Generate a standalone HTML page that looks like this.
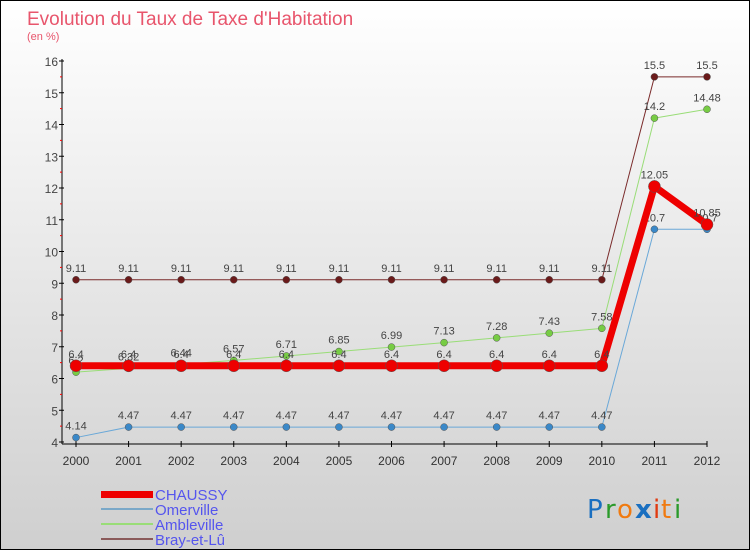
<!DOCTYPE html>
<html><head><meta charset="utf-8"><style>
body{margin:0}
#c{width:748px;height:548px;border:1px solid #000;background:linear-gradient(#fff,#cfcfcf);position:relative;font-family:"Liberation Sans",sans-serif;overflow:hidden}
</style></head><body>
<div id="c">
<svg id="s" width="748" height="548" xmlns="http://www.w3.org/2000/svg" style="position:absolute;left:0;top:0">
<text x="26" y="24" font-size="19" fill="#e8556c">Evolution du Taux de Taxe d'Habitation</text>
<text x="26" y="39" font-size="11" fill="#e8556c">(en %)</text>
<g id="axes"></g><g id="series"></g>
<g>
<rect x="100" y="490" width="52" height="7" fill="#e00"/>
<text x="154" y="499" font-size="15" fill="#5555ee">CHAUSSY</text>
<rect x="100" y="507" width="52" height="2" fill="#7aa8c8"/>
<text x="154" y="514" font-size="15" fill="#5555ee">Omerville</text>
<rect x="100" y="522" width="52" height="2" fill="#99dd77"/>
<text x="154" y="529" font-size="15" fill="#5555ee">Ambleville</text>
<rect x="100" y="537" width="52" height="2" fill="#8a5a5a"/>
<text x="154" y="544" font-size="15" fill="#5555ee">Bray-et-Lû</text>
</g>
<g font-size="26" font-family="'DejaVu Sans',sans-serif">
<text x="586" y="517" fill="#1a6fc0">P</text><text x="604" y="517" fill="#2a9a2a">r</text><text x="616" y="517" fill="#f07a10">o</text><text x="634" y="517" fill="#1a6fc0" font-weight="bold">x</text><text x="652" y="517" fill="#e03a10">i</text><text x="660" y="517" fill="#f07a10">t</text><text x="673" y="517" fill="#2a9a2a">i</text>
</g>
</svg>
</div>
<script>
const years=[2000,2001,2002,2003,2004,2005,2006,2007,2008,2009,2010,2011,2012];
const chaussy=[6.4,6.4,6.4,6.4,6.4,6.4,6.4,6.4,6.4,6.4,6.4,12.05,10.85];
const omerville=[4.14,4.47,4.47,4.47,4.47,4.47,4.47,4.47,4.47,4.47,4.47,10.7,10.7];
const ambleville=[6.2,6.32,6.44,6.57,6.71,6.85,6.99,7.13,7.28,7.43,7.58,14.2,14.48];
const bray=[9.11,9.11,9.11,9.11,9.11,9.11,9.11,9.11,9.11,9.11,9.11,15.5,15.5];
const yTicks=[4,5,6,7,8,9,10,11,12,13,14,15,16];
const NS="http://www.w3.org/2000/svg";
const X=i=>75+i*(706-75)/(years.length-1);
const Y=v=>441-(v-4)*(441-60)/12;
function mk(p,t,a){const e=document.createElementNS(NS,t);for(const k in a)e.setAttribute(k,a[k]);p.appendChild(e);return e;}
const ax=document.getElementById('axes');
let l=mk(ax,'line',{x1:61,y1:58,x2:61,y2:443,stroke:'#000'});


l=mk(ax,'line',{x1:61,y1:443,x2:706,y2:443,stroke:'#000'});


yTicks.forEach((v,i)=>{
 mk(ax,'line',{x1:58,y1:Y(v),x2:63,y2:Y(v),stroke:'#000'});
 if(i<yTicks.length-1)mk(ax,'line',{x1:59,y1:Y(v+0.5),x2:61,y2:Y(v+0.5),stroke:'#f00'});
 const t=mk(ax,'text',{x:57,y:Y(v)+5,'font-size':12,'text-anchor':'end',fill:'#444'});t.textContent=v;
 
 
});
years.forEach((y,i)=>{
 mk(ax,'line',{x1:X(i),y1:440,x2:X(i),y2:446,stroke:'#000'});
 const t=mk(ax,'text',{x:X(i),y:464,'font-size':12,'text-anchor':'middle',fill:'#333'});t.textContent=y;
 
 
});
const sg=document.getElementById('series');
function series(name,data,color,dot,w,r){
 const g=mk(sg,'g',{});
 
 
 const pl=mk(g,'polyline',{points:data.map((v,i)=>X(i)+','+Y(v)).join(' '),fill:'none',stroke:color,'stroke-width':w,'stroke-linejoin':'round'});
 
 
 data.forEach((v,i)=>{
  const c=mk(g,'circle',{cx:X(i),cy:Y(v),r:r,fill:dot,stroke:'#555','stroke-width':0.5});
  
  
  const t=mk(g,'text',{x:X(i),y:Y(v)-8,'font-size':11,'text-anchor':'middle',fill:'#444'});t.textContent=v;
  
  
 });
}
series('bray',bray,'#7a2a2a','#6a1a1a',1,3.5);
series('omerville',omerville,'#6aa8d8','#3a88c8',1,3.5);
series('ambleville',ambleville,'#99dd77','#77cc44',1,3.5);
series('chaussy',chaussy,'#ee0000','#ee0000',7,6);
</script>
</body></html>
